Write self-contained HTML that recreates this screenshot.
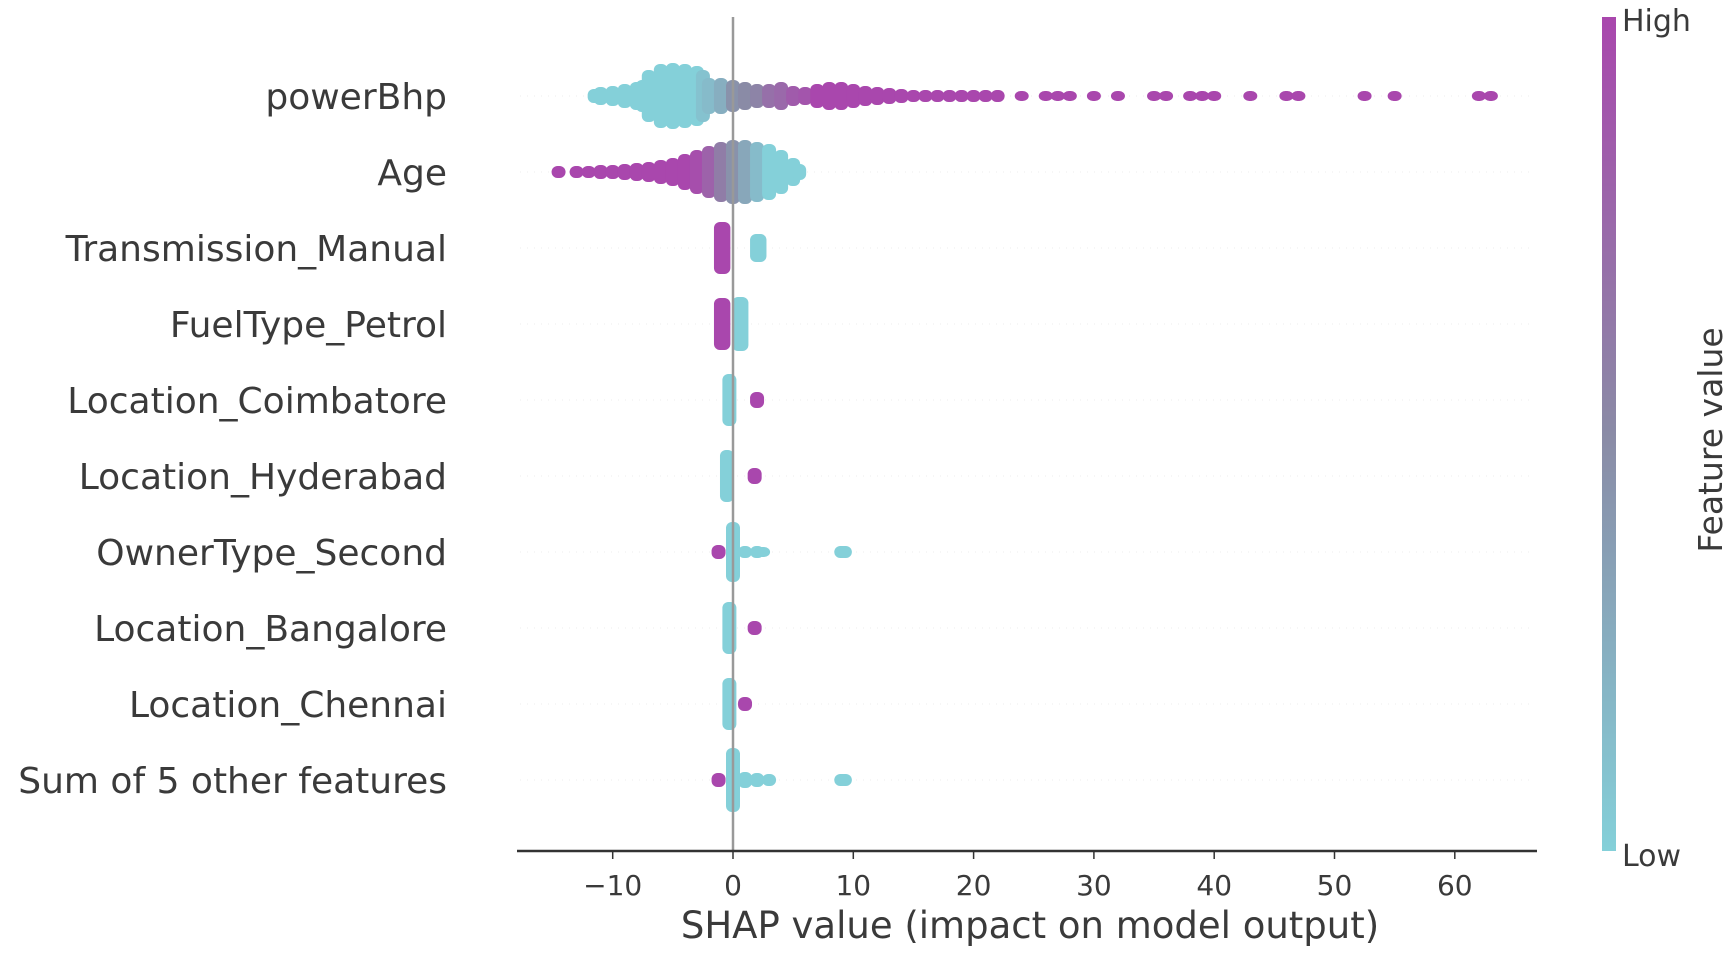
<!DOCTYPE html>
<html><head><meta charset="utf-8"><style>
html,body{margin:0;padding:0;background:#fff;}
svg{display:block;font-family:"DejaVu Sans","Liberation Sans",sans-serif;}
</style></head><body>
<svg id="chart" width="1725" height="953" viewBox="0 0 1725 953">
<defs><linearGradient id="cbar" x1="0" y1="1" x2="0" y2="0">
<stop offset="0" stop-color="#84d0d9"/><stop offset="0.5" stop-color="#8a8ba6"/><stop offset="1" stop-color="#a947ad"/></linearGradient></defs>
<g id="marks"></g>
<g id="axis"></g>
<g id="labels"></g>
<rect x="1602" y="17" width="14" height="834" fill="url(#cbar)"/>
<text x="1622" y="31" font-size="30" fill="#3a3a3a">High</text>
<text x="1622" y="866" font-size="30" fill="#3a3a3a">Low</text>
<text transform="translate(1722,440) rotate(-90)" text-anchor="middle" font-size="33" fill="#3a3a3a">Feature value</text>
<text x="1030" y="938" text-anchor="middle" font-size="37" fill="#3a3a3a">SHAP value (impact on model output)</text>
</svg>
<script>
const features = ["powerBhp","Age","Transmission_Manual","FuelType_Petrol","Location_Coimbatore","Location_Hyderabad","OwnerType_Second","Location_Bangalore","Location_Chennai","Sum of 5 other features"];
const ticks = [-10,0,10,20,30,40,50,60];
// per-row bins: shap value, swarm half-height (px density), feature value (0 low .. 1 high)
const powerX = [-11.5,-11,-10,-9,-8,-7.5,-7,-6,-5,-4,-3,-2.5,-2,-1,0,1,2,3,4,5,6,7,8,9,10,11,12,13,14,15,16,17,18,19,20,21,22,24,26,27,28,30,32,35,36,38,39,40,43,46,47,52.5,55,62,63];
const powerH = [7,9,10,12,14,16,26,32,33,32,30,26,18,18,16,14,12,12,14,10,9,12,14,14,12,10,9,8,7,6,6,6,6,6,6,6,6,5,5,5,5,5,5,5,5,5,5,5,5,5,5,5,5,5,5];
const powerC = [0,0,0,0,0,0,0,0,0,0,0,0.1,0.15,0.25,0.45,0.5,0.55,0.7,0.75,0.85,0.9,1,1,1,1,1,1,1,1,1,1,1,1,1,1,1,1,1,1,1,1,1,1,1,1,1,1,1,1,1,1,1,1,1,1];
const ageX = [-14.5,-13,-12,-11,-10,-9,-8,-7,-6,-5,-4,-3,-2,-1,0,1,2,3,4,5,5.5];
const ageH = [6,6,6,7,7,8,9,10,12,14,18,22,26,30,32,32,30,28,22,14,8];
const ageC = [1,1,1,1,1,1,1,1,1,1,1,0.95,0.8,0.6,0.45,0.3,0.15,0,0,0,0];
const transX = [-1,-0.8,2,2.2], transH=[26,26,14,14], transC=[1,1,0,0];
const fuelX = [-1,-0.8,0.5,0.7], fuelH=[26,26,27,27], fuelC=[1,1,0,0];
const coimX = [-0.3,2], coimH=[26,8], coimC=[0,1];
const hydX = [-0.5,1.8], hydH=[26,8], hydC=[0,1];
const ownX = [-1.2,0,1,2,2.5,9,9.3], ownH=[7,30,6,6,5,6,6], ownC=[1,0,0,0,0,0,0];
const bangX = [-0.3,1.8], bangH=[26,7], bangC=[0,1];
const chenX = [-0.3,1], chenH=[26,7], chenC=[0,1];
const sumX = [-1.2,0,1,2,3,9,9.3], sumH=[7,32,8,7,6,6,6], sumC=[1,0,0,0,0,0,0];
const rowsX=[powerX,ageX,transX,fuelX,coimX,hydX,ownX,bangX,chenX,sumX];
const rowsH=[powerH,ageH,transH,fuelH,coimH,hydH,ownH,bangH,chenH,sumH];
const rowsC=[powerC,ageC,transC,fuelC,coimC,hydC,ownC,bangC,chenC,sumC];

const NS="http://www.w3.org/2000/svg";
const x0=733, ppu=12.03;
const sx=v=>x0+v*ppu;
const rowY=[96,174,251,325,401,475,550,628,705,780];
const sy=i=>rowY[0]+i*(rowY[9]-rowY[0])/9;
function col(t){const a=[132,208,217],m=[138,139,166],b=[169,71,173];let p,q,u;
 if(t<0.5){p=a;q=m;u=t*2}else{p=m;q=b;u=(t-0.5)*2}
 return `rgb(${p.map((v,k)=>Math.round(v+(q[k]-v)*u)).join(',')})`;}
function mk(tag,at,par){const e=document.createElementNS(NS,tag);for(const k in at)e.setAttribute(k,at[k]);par.appendChild(e);return e;}
const marks=document.getElementById('marks'),axis=document.getElementById('axis'),labels=document.getElementById('labels');
features.forEach((f,i)=>{
 const y=sy(i);
 mk('line',{x1:520,x2:1535,y1:y,y2:y,stroke:'#eee','stroke-width':1,'stroke-dasharray':'1 6'},marks);
 rowsX[i].forEach((v,j)=>{
  const h=rowsH[i][j];
  const r=mk('rect',{x:sx(v)-7,y:y-h,width:14,height:2*h,rx:6,fill:col(rowsC[i][j])},marks);
  
  
 });
 const t=mk('text',{x:447,y:y+13,'text-anchor':'end','font-size':36,fill:'#3a3a3a'},labels);
 t.textContent=f;
 
 
});
const zl=mk('line',{x1:sx(0),x2:sx(0),y1:17,y2:851,stroke:'#999','stroke-width':2.5},axis);


mk('line',{x1:517,x2:1537,y1:851,y2:851,stroke:'#333','stroke-width':2.5},axis);
ticks.forEach(v=>{
 mk('line',{x1:sx(v),x2:sx(v),y1:851,y2:859,stroke:'#333','stroke-width':1.5},axis);
 const t=mk('text',{x:sx(v),y:895,'text-anchor':'middle','font-size':28,fill:'#3a3a3a'},axis);
 t.textContent=v<0?'\u2212'+(-v):String(v);
 
 
});
</script>
</body></html>
